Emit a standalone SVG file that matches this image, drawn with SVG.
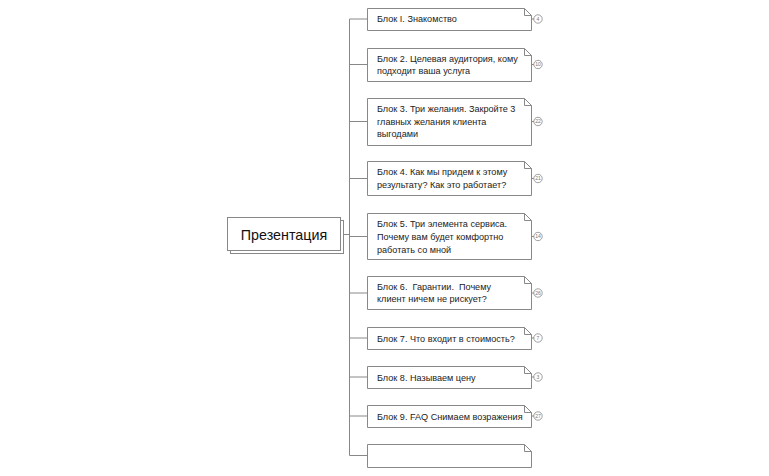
<svg xmlns="http://www.w3.org/2000/svg" width="769" height="476" viewBox="0 0 769 476">
<style>
.box{fill:#fff;stroke:#888;stroke-width:1}
.ln{fill:none;stroke:#888;stroke-width:1}
.t{font-family:"Liberation Sans",Arial,sans-serif;font-size:9.1px;fill:#222;white-space:pre}
.c{fill:#fff;stroke:#888;stroke-width:0.8}
.cn{font-family:"Liberation Sans",Arial,sans-serif;font-size:5px;fill:#777;text-anchor:middle}
.main{font-family:"Liberation Sans",Arial,sans-serif;font-size:14.3px;fill:#111;text-anchor:middle}
</style>
<rect width="769" height="476" fill="#fff"/>
<g id="connectors">
<path class="ln" d="M341 234.5H349.5M349.5 19V455.5"/>
<path class="ln" d="M349.5 19H367.5M349.5 64.5H367.5M349.5 121.5H367.5M349.5 178.5H367.5M349.5 236.5H367.5M349.5 293H367.5M349.5 338H367.5M349.5 377H367.5M349.5 416H367.5M349.5 455.5H367.5"/>
<path class="ln" d="M531.5 19H534M531.5 64.5H534M531.5 121.5H534M531.5 178.5H534M531.5 236.5H534M531.5 293H534M531.5 338H534M531.5 377H534M531.5 416H534"/>
</g>
<g id="root">
<rect class="box" x="230.5" y="220.5" width="113" height="33"/>
<rect class="box" x="227.5" y="217.5" width="113" height="33"/>
<text class="main" x="284" y="239.5">Презентация</text>
</g>
<g id="n1">
<path class="box" d="M367.5 8.5H524.5L531.5 15.5V30.5H367.5Z"/><path class="ln" d="M524.5 8.5V15.5H531.5"/>
<text class="t" x="377" y="22">Блок I. Знакомство</text>
<circle class="c" cx="538" cy="19" r="4.2"/><text class="cn" x="538" y="20.8">4</text>
</g>
<g id="n2">
<path class="box" d="M367.5 48.5H524.5L531.5 55.5V81.5H367.5Z"/><path class="ln" d="M524.5 48.5V55.5H531.5"/>
<text class="t" x="377" y="61.5">Блок 2. Целевая аудитория, кому</text>
<text class="t" x="377" y="74">подходит ваша услуга</text>
<circle class="c" cx="538" cy="64.5" r="4.2"/><text class="cn" x="538" y="66.3">10</text>
</g>
<g id="n3">
<path class="box" d="M367.5 98.5H524.5L531.5 105.5V145.5H367.5Z"/><path class="ln" d="M524.5 98.5V105.5H531.5"/>
<text class="t" x="377" y="112">Блок 3. Три желания. Закройте 3</text>
<text class="t" x="377" y="124.5">главных желания клиента</text>
<text class="t" x="377" y="137">выгодами</text>
<circle class="c" cx="538" cy="121.5" r="4.2"/><text class="cn" x="538" y="123.3">22</text>
</g>
<g id="n4">
<path class="box" d="M367.5 161.5H524.5L531.5 168.5V195.5H367.5Z"/><path class="ln" d="M524.5 161.5V168.5H531.5"/>
<text class="t" x="377" y="175">Блок 4. Как мы придем к этому</text>
<text class="t" x="377" y="188">результату? Как это работает?</text>
<circle class="c" cx="538" cy="178.5" r="4.2"/><text class="cn" x="538" y="180.3">21</text>
</g>
<g id="n5">
<path class="box" d="M367.5 213.5H524.5L531.5 220.5V259.5H367.5Z"/><path class="ln" d="M524.5 213.5V220.5H531.5"/>
<text class="t" x="377" y="227">Блок 5. Три элемента сервиса.</text>
<text class="t" x="377" y="240">Почему вам будет комфортно</text>
<text class="t" x="377" y="252.5">работать со мной</text>
<circle class="c" cx="538" cy="236.5" r="4.2"/><text class="cn" x="538" y="238.3">14</text>
</g>
<g id="n6">
<path class="box" d="M367.5 276.5H524.5L531.5 283.5V309.5H367.5Z"/><path class="ln" d="M524.5 276.5V283.5H531.5"/>
<text class="t" x="377" y="289.5" xml:space="preserve">Блок 6.  Гарантии.  Почему</text>
<text class="t" x="377" y="302">клиент ничем не рискует?</text>
<circle class="c" cx="538" cy="293" r="4.2"/><text class="cn" x="538" y="294.8">26</text>
</g>
<g id="n7">
<path class="box" d="M367.5 327.5H524.5L531.5 334.5V349.5H367.5Z"/><path class="ln" d="M524.5 327.5V334.5H531.5"/>
<text class="t" x="377" y="341.5">Блок 7. Что входит в стоимость?</text>
<circle class="c" cx="538" cy="338" r="4.2"/><text class="cn" x="538" y="339.8">7</text>
</g>
<g id="n8">
<path class="box" d="M367.5 366.5H524.5L531.5 373.5V388.5H367.5Z"/><path class="ln" d="M524.5 366.5V373.5H531.5"/>
<text class="t" x="377" y="380.5">Блок 8. Называем цену</text>
<circle class="c" cx="538" cy="377" r="4.2"/><text class="cn" x="538" y="378.8">3</text>
</g>
<g id="n9">
<path class="box" d="M367.5 405.5H524.5L531.5 412.5V427.5H367.5Z"/><path class="ln" d="M524.5 405.5V412.5H531.5"/>
<text class="t" x="377" y="419.5">Блок 9. FAQ Снимаем возражения</text>
<circle class="c" cx="538" cy="416" r="4.2"/><text class="cn" x="538" y="417.8">27</text>
</g>
<g id="n10">
<path class="box" d="M367.5 444.5H524.5L531.5 451.5V467.5H367.5Z"/><path class="ln" d="M524.5 444.5V451.5H531.5"/>
</g>
</svg>
